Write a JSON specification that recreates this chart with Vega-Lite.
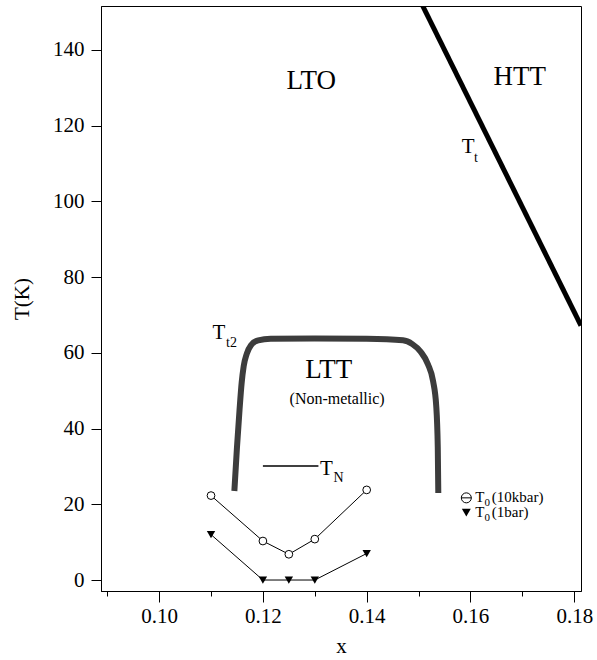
{
  "$schema": "https://vega.github.io/schema/vega-lite/v6.json",
  "width": 480,
  "height": 585,
  "autosize": {"type": "none"},
  "padding": {"left": 101, "top": 6, "right": 16, "bottom": 69},
  "background": "white",
  "config": {
    "view": {"stroke": "black", "strokeWidth": 1},
    "axis": {
      "grid": false,
      "domainColor": "black",
      "tickColor": "black",
      "labelColor": "black",
      "titleColor": "black",
      "labelFont": "'Liberation Serif', 'Times New Roman', serif",
      "titleFont": "'Liberation Serif', 'Times New Roman', serif",
      "labelFontSize": 21,
      "titleFontSize": 21,
      "titleFontWeight": "normal",
      "domainWidth": 1,
      "tickWidth": 1
    },
    "text": {"font": "'Liberation Serif', 'Times New Roman', serif", "color": "black"}
  },
  "datasets": {
    "tt": [
      {"i": 0, "x": 0.1508, "T": 151.6},
      {"i": 1, "x": 0.1813, "T": 67.2}
    ],
    "tt2": [
      {"i": 0, "x": 0.1145, "T": 23.5},
      {"i": 1, "x": 0.1150, "T": 35},
      {"i": 2, "x": 0.1155, "T": 45},
      {"i": 3, "x": 0.1159, "T": 52},
      {"i": 4, "x": 0.1163, "T": 56.5},
      {"i": 5, "x": 0.1169, "T": 59.8},
      {"i": 6, "x": 0.1177, "T": 62},
      {"i": 7, "x": 0.1191, "T": 63.3},
      {"i": 8, "x": 0.1215, "T": 63.7},
      {"i": 9, "x": 0.1300, "T": 63.8},
      {"i": 10, "x": 0.1400, "T": 63.7},
      {"i": 11, "x": 0.1470, "T": 63.3},
      {"i": 12, "x": 0.1488, "T": 62.3},
      {"i": 13, "x": 0.1504, "T": 60.3},
      {"i": 14, "x": 0.1518, "T": 57},
      {"i": 15, "x": 0.1528, "T": 52.5},
      {"i": 16, "x": 0.1534, "T": 46},
      {"i": 17, "x": 0.1537, "T": 35},
      {"i": 18, "x": 0.1538, "T": 23}
    ],
    "tn": [
      {"x": 0.1200, "T": 30.1},
      {"x": 0.1307, "T": 30.1}
    ],
    "p10": [
      {"x": 0.110, "T": 22.3},
      {"x": 0.120, "T": 10.3},
      {"x": 0.125, "T": 6.8},
      {"x": 0.130, "T": 10.8},
      {"x": 0.140, "T": 23.8}
    ],
    "p1": [
      {"x": 0.110, "T": 12.0},
      {"x": 0.120, "T": 0},
      {"x": 0.125, "T": 0},
      {"x": 0.130, "T": 0},
      {"x": 0.140, "T": 7.0}
    ],
    "legCircle": [{"x": 0.1592, "T": 21.7}],
    "legCircleBar": [
      {"x": 0.1582, "T": 21.7},
      {"x": 0.1602, "T": 21.7}
    ],
    "legTri": [{"x": 0.1592, "T": 17.8}],
    "bigText": [
      {"x": 0.1293, "T": 129.7, "label": "LTO"},
      {"x": 0.1695, "T": 130.8, "label": "HTT"},
      {"x": 0.1327, "T": 53.4, "label": "LTT"}
    ],
    "symText": [
      {"x": 0.1583, "T": 112.7, "label": "T"},
      {"x": 0.1103, "T": 63.7, "label": "T"},
      {"x": 0.1310, "T": 27.7, "label": "T"}
    ],
    "subText": [
      {"x": 0.1607, "T": 110.5, "label": "t"},
      {"x": 0.1129, "T": 61.6, "label": "t2"},
      {"x": 0.1336, "T": 26.0, "label": "N"}
    ],
    "noteText": [
      {"x": 0.1343, "T": 46.5, "label": "(Non-metallic)"}
    ],
    "legText": [
      {"x": 0.1609, "T": 20.5, "label": "T"},
      {"x": 0.1641, "T": 20.5, "label": "(10kbar)"},
      {"x": 0.1609, "T": 16.6, "label": "T"},
      {"x": 0.1641, "T": 16.6, "label": "(1bar)"}
    ],
    "legSub": [
      {"x": 0.1627, "T": 19.5, "label": "0"},
      {"x": 0.1627, "T": 15.6, "label": "0"}
    ]
  },
  "encoding": {
    "x": {
      "field": "x",
      "type": "quantitative",
      "scale": {"domain": [0.0888, 0.1813], "nice": false, "zero": false},
      "axis": {
        "title": "x",
        "values": [0.09, 0.10, 0.11, 0.12, 0.13, 0.14, 0.15, 0.16, 0.17, 0.18],
        "labelExpr": "round(datum.value*100) % 2 == 0 ? format(datum.value, '.2f') : ''",
        "tickSize": {"condition": {"test": "round(datum.value*100) % 2 == 0", "value": 11}, "value": 5},
        "labelPadding": 3,
        "titlePadding": 9,
        "labelFlush": false
      }
    },
    "y": {
      "field": "T",
      "type": "quantitative",
      "scale": {"domain": [-2.9, 151.6], "nice": false, "zero": false},
      "axis": {
        "title": "T(K)",
        "values": [0, 20, 40, 60, 80, 100, 120, 140],
        "tickSize": 10,
        "labelPadding": 7,
        "titlePadding": 20,
        "labelFlush": false
      }
    }
  },
  "layer": [
    {
      "data": {"name": "tt"},
      "mark": {"type": "line", "color": "black", "strokeWidth": 5, "clip": true, "strokeCap": "butt"},
      "encoding": {"order": {"field": "i"}}
    },
    {
      "data": {"name": "tt2"},
      "mark": {"type": "line", "color": "#3c3c3c", "strokeWidth": 6, "interpolate": "monotone", "clip": true},
      "encoding": {"order": {"field": "i"}}
    },
    {
      "data": {"name": "tn"},
      "mark": {"type": "line", "color": "black", "strokeWidth": 1.5},
      "encoding": {}
    },
    {
      "data": {"name": "p10"},
      "mark": {"type": "line", "color": "black", "strokeWidth": 1},
      "encoding": {}
    },
    {
      "data": {"name": "p10"},
      "mark": {"type": "point", "shape": "circle", "size": 60, "filled": true, "fill": "white", "stroke": "black", "strokeWidth": 1, "opacity": 1},
      "encoding": {}
    },
    {
      "data": {"name": "p1"},
      "mark": {"type": "line", "color": "black", "strokeWidth": 1},
      "encoding": {}
    },
    {
      "data": {"name": "p1"},
      "mark": {"type": "point", "shape": "triangle-down", "size": 70, "filled": true, "color": "black", "opacity": 1},
      "encoding": {}
    },
    {
      "data": {"name": "legCircle"},
      "mark": {"type": "point", "shape": "circle", "size": 100, "filled": false, "stroke": "black", "strokeWidth": 1, "opacity": 1},
      "encoding": {}
    },
    {
      "data": {"name": "legCircleBar"},
      "mark": {"type": "line", "color": "black", "strokeWidth": 1},
      "encoding": {}
    },
    {
      "data": {"name": "legTri"},
      "mark": {"type": "point", "shape": "triangle-down", "size": 80, "filled": true, "color": "black", "opacity": 1},
      "encoding": {}
    },
    {
      "data": {"name": "bigText"},
      "mark": {"type": "text", "fontSize": 27, "align": "center", "baseline": "alphabetic"},
      "encoding": {"text": {"field": "label"}}
    },
    {
      "data": {"name": "symText"},
      "mark": {"type": "text", "fontSize": 21, "align": "left", "baseline": "alphabetic"},
      "encoding": {"text": {"field": "label"}}
    },
    {
      "data": {"name": "subText"},
      "mark": {"type": "text", "fontSize": 14, "align": "left", "baseline": "alphabetic"},
      "encoding": {"text": {"field": "label"}}
    },
    {
      "data": {"name": "noteText"},
      "mark": {"type": "text", "fontSize": 16, "align": "center", "baseline": "alphabetic"},
      "encoding": {"text": {"field": "label"}}
    },
    {
      "data": {"name": "legText"},
      "mark": {"type": "text", "fontSize": 15, "align": "left", "baseline": "alphabetic"},
      "encoding": {"text": {"field": "label"}}
    },
    {
      "data": {"name": "legSub"},
      "mark": {"type": "text", "fontSize": 11, "align": "left", "baseline": "alphabetic"},
      "encoding": {"text": {"field": "label"}}
    }
  ]
}
